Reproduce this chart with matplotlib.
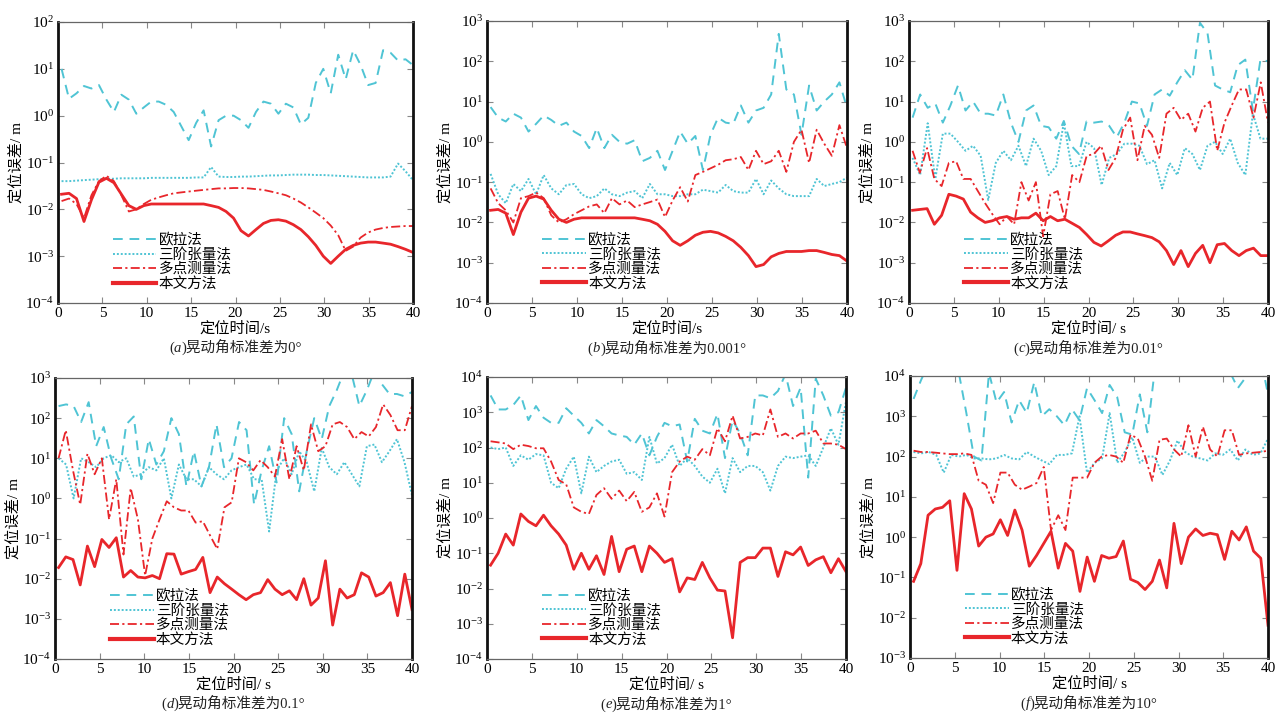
import numpy as np
import matplotlib
matplotlib.use("Agg")
import matplotlib.pyplot as plt
from matplotlib.ticker import FixedLocator, FuncFormatter, NullLocator
from matplotlib.offsetbox import TextArea, HPacker, AnnotationBbox

plt.rcParams['font.family'] = ['Liberation Serif', 'Noto Sans CJK SC', 'DejaVu Sans']
plt.rcParams['mathtext.fontset'] = 'custom'
plt.rcParams['mathtext.rm'] = 'Liberation Serif'
plt.rcParams['mathtext.it'] = 'Liberation Serif:italic'

# ---------------- data ----------------
LABELS = ['欧拉法', '三阶张量法', '多点测量法', '本文方法']

# (a) sway std 0°
A_euler = [10, 2.3, 3.0, 4.3, 3.8, 4.5, 2.2, 1.2, 2.8, 2.2, 1.1, 1.5, 2.0, 2.0, 1.7, 1.2, 0.6, 0.3, 0.7, 1.3,
           0.22, 0.8, 1.0, 1.0, 0.8, 0.55, 1.2, 2.0, 1.8, 1.1, 1.8, 1.5, 0.65, 0.9, 5, 10, 3.0, 20, 6, 25,
           12, 4.5, 5, 25, 22, 15, 16, 12]
A_tensor = [0.040, 0.040, 0.041, 0.042, 0.043, 0.044, 0.045, 0.045, 0.046, 0.046, 0.046, 0.046, 0.047, 0.047,
            0.047, 0.047, 0.047, 0.047, 0.048, 0.048, 0.080, 0.050, 0.049, 0.049, 0.050, 0.050, 0.051, 0.052,
            0.053, 0.053, 0.054, 0.055, 0.055, 0.055, 0.054, 0.054, 0.053, 0.052, 0.051, 0.050, 0.049, 0.048,
            0.048, 0.048, 0.050, 0.095, 0.065, 0.042]
A_multi = [0.015, 0.017, 0.013, 0.0065, 0.02, 0.04, 0.052, 0.04, 0.02, 0.009, 0.01, 0.013, 0.016, 0.018, 0.02,
           0.022, 0.023, 0.024, 0.025, 0.026, 0.027, 0.028, 0.028, 0.0285, 0.0285, 0.028, 0.027, 0.026, 0.024,
           0.022, 0.02, 0.017, 0.014, 0.011, 0.0085, 0.0065, 0.0045, 0.0028, 0.0013, 0.0016, 0.0025, 0.0032,
           0.0037, 0.004, 0.0042, 0.0043, 0.0044, 0.0044]
A_ours = [0.021, 0.022, 0.017, 0.0055, 0.016, 0.038, 0.046, 0.037, 0.021, 0.012, 0.010, 0.012, 0.013, 0.013,
          0.013, 0.013, 0.013, 0.013, 0.013, 0.013, 0.012, 0.011, 0.009, 0.0065, 0.0035, 0.0027, 0.0037, 0.005,
          0.0058, 0.006, 0.0056, 0.0047, 0.0037, 0.0026, 0.0017, 0.001, 0.0007, 0.001, 0.0014, 0.0017, 0.0019,
          0.002, 0.002, 0.0019, 0.0018, 0.0016, 0.0014, 0.0012]

# (b) sway std 0.001°
B_euler = [7.3, 4, 3.2, 5, 4, 1.8, 2.8, 4.5, 3.5, 2.5, 3, 1.8, 1.4, 0.7, 2.2, 0.7, 1.5, 1.0, 0.9, 1.1,
           0.33, 0.4, 0.6, 0.2, 0.6, 1.8, 0.9, 1.4, 0.2, 1.5, 4, 3, 2.8, 8, 3, 6, 7, 15, 480, 20,
           15, 1.5, 25, 6, 10, 15, 30, 7]
B_tensor = [0.16, 0.05, 0.03, 0.09, 0.06, 0.12, 0.05, 0.15, 0.07, 0.05, 0.085, 0.09, 0.05, 0.04, 0.045, 0.07,
            0.05, 0.045, 0.055, 0.06, 0.04, 0.09, 0.05, 0.05, 0.045, 0.045, 0.05, 0.05, 0.065, 0.06, 0.055,
            0.085, 0.06, 0.055, 0.055, 0.12, 0.05, 0.11, 0.07, 0.05, 0.045, 0.045, 0.045, 0.12, 0.08, 0.09,
            0.1, 0.13]
B_multi = [0.07, 0.03, 0.02, 0.01, 0.04, 0.045, 0.055, 0.04, 0.015, 0.01, 0.012, 0.016, 0.02, 0.025, 0.028,
           0.017, 0.04, 0.028, 0.035, 0.024, 0.028, 0.032, 0.037, 0.0136, 0.035, 0.075, 0.033, 0.15, 0.18,
           0.22, 0.27, 0.35, 0.37, 0.42, 0.2, 0.6, 0.28, 0.33, 0.6, 0.18, 1.0, 2.0, 0.3, 2.0, 0.9, 0.45, 2.6, 0.7]
B_ours = [0.02, 0.021, 0.017, 0.005, 0.018, 0.04, 0.045, 0.038, 0.02, 0.012, 0.01, 0.012, 0.013, 0.013,
          0.013, 0.013, 0.013, 0.013, 0.013, 0.013, 0.012, 0.011, 0.009, 0.006, 0.0035, 0.0027, 0.0035,
          0.0048, 0.0057, 0.006, 0.0055, 0.0045, 0.0035, 0.0024, 0.0015, 0.0008, 0.0009, 0.0014, 0.0017,
          0.0019, 0.0019, 0.0019, 0.002, 0.002, 0.0018, 0.0016, 0.0015, 0.0011]

# (c) sway std 0.01°
C_euler = [4, 15, 7, 9, 3, 8, 25, 6, 10, 5, 5, 4.5, 15, 3, 1.0, 6, 8, 2.5, 2.3, 1.2,
           3.3, 0.8, 0.5, 3.2, 3, 3.2, 2.5, 1.3, 3, 10, 9, 2.5, 15, 20, 14, 30, 60, 35, 900, 500,
           25, 20, 17, 80, 110, 6, 110, 100]
C_tensor = [0.4, 0.15, 2.9, 0.12, 1.6, 1.6, 1.0, 0.6, 0.8, 0.45, 0.036, 0.3, 0.6, 0.35, 0.8, 0.25, 1.2, 0.6,
            0.15, 0.25, 3, 0.25, 0.25, 1.0, 0.7, 0.085, 0.4, 0.5, 0.9, 0.9, 0.8, 0.28, 0.35, 0.07, 0.3, 0.15,
            0.7, 0.5, 0.2, 0.8, 1.0, 0.5, 1.2, 0.3, 0.15, 5, 1.2, 1.2]
C_multi = [0.6, 0.17, 0.7, 0.12, 0.08, 0.3, 0.33, 0.12, 0.12, 0.06, 0.03, 0.016, 0.009, 0.014, 0.009, 0.1,
           0.035, 0.1, 0.0045, 0.05, 0.06, 0.012, 0.15, 0.1, 0.45, 0.5, 0.8, 0.2, 0.4, 2, 4, 0.35, 2.5, 1.5,
           0.4, 5, 7, 3.5, 5, 1.8, 7, 10, 0.6, 3, 8, 20, 20, 4, 30, 3]
C_ours = [0.02, 0.021, 0.022, 0.009, 0.015, 0.05, 0.045, 0.038, 0.018, 0.013, 0.01, 0.011, 0.013, 0.014,
          0.012, 0.013, 0.013, 0.017, 0.011, 0.014, 0.011, 0.012, 0.0095, 0.0075, 0.005, 0.0032, 0.0026,
          0.0035, 0.0048, 0.0058, 0.0058, 0.0052, 0.0047, 0.0042, 0.0033, 0.002, 0.0009, 0.002, 0.0008,
          0.0017, 0.0027, 0.001, 0.0028, 0.003, 0.002, 0.0015, 0.002, 0.0023, 0.0015, 0.0015]

# (d) sway std 0.1°
D_euler = [200, 220, 200, 80, 250, 20, 60, 10, 3, 70, 110, 3, 30, 7, 15, 100, 40, 2, 15, 2,
           6, 70, 6, 10, 80, 50, 0.7, 5, 20, 2.5, 100, 40, 1.5, 15, 100, 30, 200, 500, 1500, 1200,
           200, 500, 1500, 700, 400, 400, 350, 450]
D_tensor = [10, 7, 1.0, 10, 8, 6, 10, 12, 8, 10, 3.5, 4, 6, 5, 10, 1.0, 7, 3, 3, 2, 6, 4, 3, 5, 6, 7, 3, 3,
            0.15, 5, 10, 4, 15, 8, 1.5, 18, 6, 4, 8, 4, 2, 20, 22, 8, 15, 30, 8, 1.2]
D_multi = [10, 50, 5, 0.7, 13, 4, 10, 0.3, 3, 0.04, 1.8, 0.3, 0.012, 0.1, 0.3, 0.85, 0.6, 0.5, 0.5, 0.25,
           0.27, 0.12, 0.055, 0.6, 0.8, 10, 8, 5, 9, 6, 3.5, 30, 3, 20, 5, 70, 15, 20, 70, 80,
           60, 30, 45, 35, 60, 220, 120, 50, 50, 200]
D_ours = [0.019, 0.035, 0.03, 0.007, 0.065, 0.02, 0.095, 0.06, 0.105, 0.011, 0.016, 0.011, 0.0105, 0.012,
          0.01, 0.042, 0.041, 0.013, 0.015, 0.017, 0.034, 0.0045, 0.011, 0.0075, 0.0055, 0.004, 0.003, 0.004,
          0.0045, 0.0095, 0.0055, 0.004, 0.005, 0.003, 0.01, 0.0022, 0.0033, 0.028, 0.0007, 0.0055, 0.0033,
          0.004, 0.014, 0.011, 0.0037, 0.0045, 0.008, 0.0012, 0.013, 0.0017]

# (e) sway std 1°
E_euler = [3000, 1200, 1200, 1600, 3000, 600, 1500, 700, 500, 500, 1300, 800, 500, 250, 600, 400, 250, 220,
           200, 120, 250, 60, 200, 500, 400, 450, 40, 650, 300, 250, 900, 50, 600, 250, 60, 3000, 3000, 2500,
           4000, 12000, 1500, 5000, 14, 9000, 3000, 800, 1000, 5000]
E_tensor = [100, 90, 100, 30, 60, 45, 65, 60, 10, 7, 25, 55, 5, 55, 20, 30, 40, 45, 18, 20, 12, 200, 35, 50,
            120, 30, 50, 30, 15, 10, 25, 5, 50, 20, 30, 30, 20, 6, 30, 55, 50, 55, 60, 30, 100, 350, 120, 2000]
E_multi = [150, 140, 130, 90, 120, 110, 95, 95, 40, 12, 9, 2, 1.5, 1.3, 4.5, 7, 3.5, 6, 3, 5.5, 1.5, 2, 5,
           1.1, 20, 40, 55, 45, 90, 60, 350, 150, 800, 180, 200, 250, 220, 1200, 200, 250, 180, 250, 250, 300,
           130, 130, 120, 90]
E_ours = [0.046, 0.1, 0.35, 0.17, 1.3, 0.8, 0.6, 1.2, 0.6, 0.35, 0.17, 0.035, 0.1, 0.035, 0.085, 0.025, 0.3,
          0.03, 0.13, 0.16, 0.03, 0.16, 0.1, 0.055, 0.07, 0.008, 0.02, 0.018, 0.055, 0.02, 0.009, 0.0085,
          0.0004, 0.055, 0.075, 0.075, 0.14, 0.14, 0.022, 0.11, 0.09, 0.15, 0.045, 0.065, 0.08, 0.028, 0.07, 0.03]

# (f) sway std 10°
F_euler = [2700, 8000, 20000, 30000, 30000, 30000, 12000, 1200, 100, 80, 12000, 2200, 4000, 700, 2500, 1200,
           7000, 1000, 1500, 1000, 600, 1500, 800, 5000, 2500, 1200, 6000, 3000, 400, 350, 3500, 400, 15000,
           30000, 30000, 30000, 30000, 30000, 30000, 30000, 30000, 30000, 12000, 5000, 9000, 30000, 30000, 3500]
F_tensor = [130, 120, 130, 110, 40, 110, 100, 110, 90, 90, 85, 90, 110, 90, 85, 130, 100, 80, 65, 110, 110,
            120, 1000, 40, 70, 90, 1200, 70, 130, 300, 70, 100, 100, 35, 80, 250, 130, 100, 90, 80, 120, 110,
            150, 80, 150, 110, 120, 280]
F_multi = [140, 130, 130, 125, 120, 115, 115, 120, 110, 25, 20, 7, 40, 40, 20, 15, 18, 22, 55, 1.5, 3.5, 1.5,
           30, 30, 30, 70, 100, 110, 100, 70, 350, 280, 100, 25, 260, 280, 150, 100, 600, 100, 550, 150, 100,
           450, 450, 110, 120, 125, 130, 140]
F_ours = [0.08, 0.22, 3.5, 5, 5.5, 8, 0.15, 12, 5, 0.6, 1.0, 1.2, 2.7, 1.1, 4.7, 1.5, 0.19, 0.35, 0.7, 1.4,
          0.17, 0.7, 0.45, 0.045, 0.32, 0.08, 0.35, 0.3, 0.33, 0.8, 0.09, 0.075, 0.05, 0.08, 0.27, 0.055, 2.2,
          0.22, 1.0, 1.6, 1.1, 1.25, 1.15, 0.28, 1.4, 0.85, 1.8, 0.45, 0.3, 0.0065]

CAPTION_LETTERS = ['a', 'b', 'c', 'd', 'e', 'f']
CAPTION_TEXT = ['晃动角标准差为0°', '晃动角标准差为0.001°', '晃动角标准差为0.01°',
                '晃动角标准差为0.1°', '晃动角标准差为1°', '晃动角标准差为10°']
XLABELS = ['定位时间/s', '定位时间/s', '定位时间/ s', '定位时间/ s', '定位时间/ s', '定位时间/ s']
YLABEL = '定位误差/ m'
Y_EXP = [(-4, 2), (-4, 3), (-4, 3), (-4, 3), (-4, 4), (-3, 4)]
X_TICKS = [0, 5, 10, 15, 20, 25, 30, 35, 40]
T_START, T_END = 0.4, 40

SERIES = [
    (A_euler, A_tensor, A_multi, A_ours),
    (B_euler, B_tensor, B_multi, B_ours),
    (C_euler, C_tensor, C_multi, C_ours),
    (D_euler, D_tensor, D_multi, D_ours),
    (E_euler, E_tensor, E_multi, E_ours),
    (F_euler, F_tensor, F_multi, F_ours),
]

# ---------------- styles / layout ----------------
CYAN = '#4FC4D4'
RED = '#E8262B'
STYLES = [
    dict(color=CYAN, lw=1.4, ls=(0, (5, 3.5))),
    dict(color=CYAN, lw=1.4, ls=(0, (1, 1))),
    dict(color=RED, lw=1.3, ls=(0, (5, 1.8, 1.2, 1.8))),
    dict(color=RED, lw=2.0, ls='-'),
]
W, H = 1283, 714
BOXES = [  # left, top, right, bottom in pixels
    (58, 22, 413, 303), (487, 21, 847, 303), (909, 21, 1268, 303),
    (55, 378, 412, 659), (487, 377, 846, 659), (910, 376, 1268, 658),
]
YLABEL_OFFSET_PX = 34
FS_TICK = 11
FS_LABEL = 11
FS_LEG = 10.5
FS_CAP = 10.5

fig = plt.figure(figsize=(W / 100, H / 100), dpi=100)
fmt = FuncFormatter(lambda v, p: r'$\mathrm{10^{%d}}$' % int(round(np.log10(v))))

for k in range(6):
    l, t, r, b = BOXES[k]
    ax = fig.add_axes([l / W, 1 - b / H, (r - l) / W, (b - t) / H])
    for vals, st in zip(SERIES[k], STYLES):
        x = np.linspace(T_START, T_END, len(vals))
        ax.plot(x, vals, **st)
    lo, hi = Y_EXP[k]
    ax.set_yscale('log')
    ax.set_ylim(10.0 ** lo, 10.0 ** hi)
    ax.set_xlim(0, 40)
    ax.yaxis.set_major_locator(FixedLocator([10.0 ** e for e in range(lo, hi + 1)]))
    ax.yaxis.set_minor_locator(NullLocator())
    ax.yaxis.set_major_formatter(fmt)
    ax.xaxis.set_major_locator(FixedLocator(X_TICKS))
    ax.tick_params(axis='both', which='both', direction='in', top=True, right=True,
                   length=4, width=0.8, color='#888888', labelsize=FS_TICK, pad=3)
    for side in ['left', 'right']:
        ax.spines[side].set_linewidth(2.0)
        ax.spines[side].set_color('#111111')
    for side in ['top', 'bottom']:
        ax.spines[side].set_linewidth(0.9)
        ax.spines[side].set_color('#666666')
    ax.set_ylabel(YLABEL, fontsize=FS_LABEL)
    ax.yaxis.set_label_coords(-YLABEL_OFFSET_PX / (r - l), 0.5)
    ax.set_xlabel(XLABELS[k], fontsize=FS_LABEL)
    ax.xaxis.set_label_coords(0.5, -0.065)

    tp = dict(fontsize=FS_CAP, color='#222222')
    tpi = dict(fontsize=FS_CAP, color='#222222', style='italic')
    cap = HPacker(children=[TextArea('(', textprops=tp),
                            TextArea(CAPTION_LETTERS[k], textprops=tpi),
                            TextArea(')' + CAPTION_TEXT[k], textprops=tp)],
                  align='baseline', pad=0, sep=0)
    ab = AnnotationBbox(cap, (0.5, -0.158), xycoords='axes fraction', frameon=False,
                        box_alignment=(0.5, 0.5), annotation_clip=False)
    ax.add_artist(ab)

    handles = [plt.Line2D([], [], **st) for st in STYLES]
    handles[3].set_linewidth(3.0)
    ax.legend(handles, LABELS, loc='upper left', bbox_to_anchor=(0.125, 0.285), frameon=False,
              fontsize=FS_LEG, handlelength=3.0, handletextpad=0.15, labelspacing=0.05, borderpad=0.2)

fig.savefig('out.png', dpi=100)
